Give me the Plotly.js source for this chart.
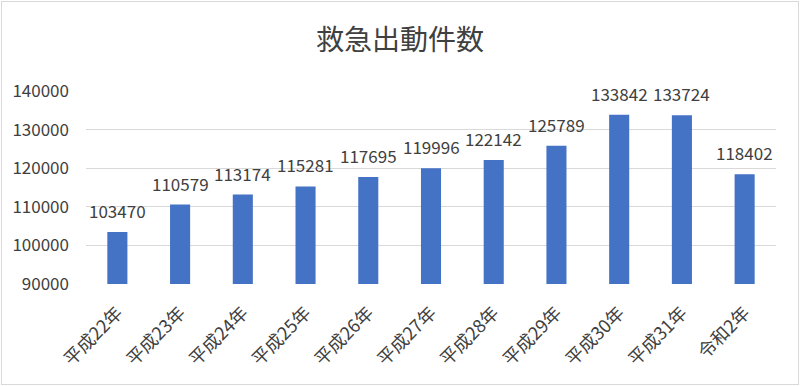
<!DOCTYPE html>
<html><head><meta charset="utf-8">
<script src="https://cdn.plot.ly/plotly-3.0.1.min.js"></script>
<style>
html,body{margin:0;padding:0;background:#fff;}
#wrap{position:relative;width:800px;height:386px;}
#chart{width:800px;height:386px;}
#border{position:absolute;left:1px;top:1px;width:796px;height:382px;border:1px solid #d9d9d9;pointer-events:none;}
</style></head>
<body><div id="wrap"><div id="chart"></div><div id="border"></div></div>
<script>
const categories = ["平成22年","平成23年","平成24年","平成25年","平成26年","平成27年","平成28年","平成29年","平成30年","平成31年","令和2年"];
const values = [103470,110579,113174,115281,117695,119996,122142,125789,133842,133724,118402];
const yTicks = [90000,100000,110000,120000,130000,140000];
const chartTitle = "救急出動件数";
const font = '"Noto Sans CJK JP", "Noto Sans", sans-serif';

const labels = categories.map((c, i) => ({
  x: c, y: values[i], xref: 'x', yref: 'y',
  text: String(values[i]), showarrow: false,
  yanchor: 'bottom', yshift: 7,
  font: {family: font, size: 17, color: '#404040'}
}));

Plotly.newPlot('chart', [{
  type: 'bar',
  x: categories,
  y: values,
  marker: {color: '#4472C4'},
  hoverinfo: 'none'
}], {
  width: 800, height: 386,
  margin: {l: 86, r: 24, t: 91, b: 102},
  paper_bgcolor: '#fff', plot_bgcolor: '#fff',
  title: {text: chartTitle, font: {family: font, size: 28, color: '#404040'}, x: 0.5, xanchor: 'center', y: 0.895, yanchor: 'middle'},
  bargap: 0.68,
  showlegend: false,
  annotations: labels,
  xaxis: {
    tickangle: -45,
    tickfont: {family: font, size: 18, color: '#404040'},
    showgrid: false, zeroline: false, showline: false, ticks: '', ticklabelstandoff: 14
  },
  yaxis: {
    range: [90000, 140000],
    tickvals: yTicks,
    ticktext: yTicks.map(String),
    tickfont: {family: font, size: 17, color: '#404040'},
    showgrid: true, gridcolor: '#d9d9d9', gridwidth: 1,
    zeroline: false, showline: false, ticks: '', ticklabelstandoff: 16
  }
}, {staticPlot: true});
</script></body></html>
